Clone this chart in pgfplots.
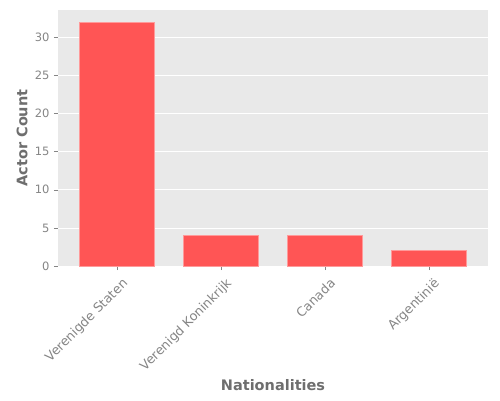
\documentclass[border=0pt]{standalone}
\usepackage{pgfplots}
\pgfplotsset{compat=1.18}
\usepackage{fontspec}
\setmainfont{DejaVu Sans}
\definecolor{panel}{HTML}{E9E9E9}
\definecolor{barfill}{HTML}{FF5555}
\definecolor{baredge}{HTML}{FF9A9A}
\definecolor{labc}{HTML}{6E6E6E}
\definecolor{tickc}{HTML}{858585}
\begin{document}
\begin{tikzpicture}[x=1pt,y=1pt]
\useasboundingbox (0,0) rectangle (500,400);
\begin{axis}[
  at={(58pt,134pt)}, anchor=south west,
  scale only axis, width=430pt, height=256pt,
  xmin=-0.57, xmax=3.57, ymin=0, ymax=33.6,
  axis background/.style={fill=panel},
  axis line style={draw=none},
  ymajorgrids, major grid style={white, line width=0.8pt},
  xtick={0,1,2,3},
  xticklabels={Verenigde Staten, Verenigd Koninkrijk, Canada, Argentinië},
  ytick={0,5,10,15,20,25,30},
  xtick pos=left, ytick pos=left,
  tick align=outside, major tick length=4pt,
  tick style={tickc, line width=0.6pt},
  ticklabel style={font=\fontsize{11.5}{13}\selectfont, text=tickc},
  /pgf/number format/assume math mode=true,
  xticklabel style={font=\fontsize{12.8}{14}\selectfont, rotate=45, anchor=north east, inner sep=1pt, yshift=-7pt, xshift=-1pt},
  yticklabel style={xshift=-1pt},
  xlabel={Nationalities}, ylabel={Actor Count},
  every axis x label/.style={at={(axis description cs:0.5,0)}, anchor=center, yshift=-119pt, font=\bfseries\fontsize{14.5}{16}\selectfont, text=labc},
  every axis y label/.style={at={(axis description cs:0,0.5)}, xshift=-36pt, rotate=90, anchor=center, font=\bfseries\fontsize{14.5}{16}\selectfont, text=labc},
]
\addplot[ybar, bar width=0.72, fill=barfill, draw=baredge, line width=0.8pt] coordinates {(0,32) (1,4) (2,4) (3,2)};
\end{axis}
\end{tikzpicture}
\end{document}
